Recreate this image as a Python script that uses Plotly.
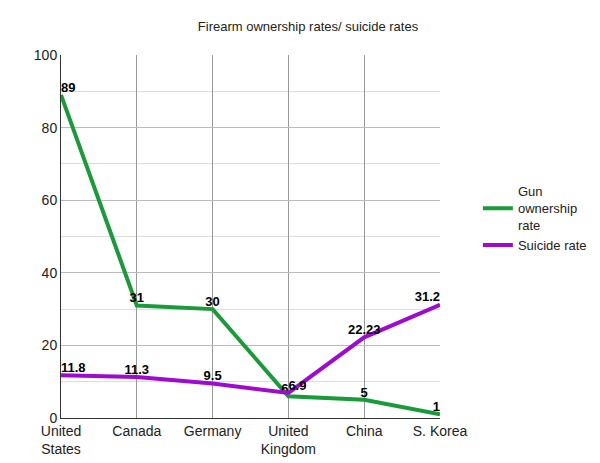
import plotly.graph_objects as go

categories = ["United<br>States", "Canada", "Germany", "United<br>Kingdom", "China", "S. Korea"]
gun = [89, 31, 30, 6, 5, 1]
suicide = [11.8, 11.3, 9.5, 6.9, 22.23, 31.2]
gun_labels = ["89", "31", "30", "6", "5", "1"]
suicide_labels = ["11.8", "11.3", "9.5", "6.9", "22.23", "31.2"]

lbl = dict(family="Arial", size=13, color="black", weight="bold")
fig = go.Figure()
fig.add_trace(go.Scatter(x=categories, y=gun, mode="lines+text", name="Gun<br>ownership<br>rate",
                         line=dict(color="#1a9b3a", width=4), text=gun_labels, cliponaxis=False,
                         textposition=["top right", "top center", "top center", "top left", "top center", "top left"],
                         textfont=lbl))
fig.add_trace(go.Scatter(x=categories, y=suicide, mode="lines+text", name="Suicide rate",
                         line=dict(color="#9e0bcf", width=4), text=suicide_labels, cliponaxis=False,
                         textposition=["top right", "top center", "top center", "top right", "top center", "top left"],
                         textfont=lbl))
fig.update_layout(
    width=600, height=463, plot_bgcolor="white", paper_bgcolor="white",
    font=dict(family="Arial", size=13, color="#222"),
    title=dict(text="Firearm ownership rates/ suicide rates", x=0.5, y=0.97, xanchor="center", font=dict(size=13)),
    margin=dict(l=53, r=168, t=47, b=53),
    legend=dict(x=1.1, y=0.55, xanchor="left", yanchor="middle", font=dict(size=13), tracegroupgap=30),
    xaxis=dict(range=[0, 5], showgrid=True, gridcolor="#999", showline=True, linecolor="#333", ticks="",
               tickfont=dict(size=14)),
    yaxis=dict(range=[0, 100], dtick=20, gridcolor="#bbb", showline=True, linecolor="#333",
               tickfont=dict(size=14),
               minor=dict(dtick=10, showgrid=True, gridcolor="#ddd"), zeroline=False),
)
fig.write_html("out.html")
